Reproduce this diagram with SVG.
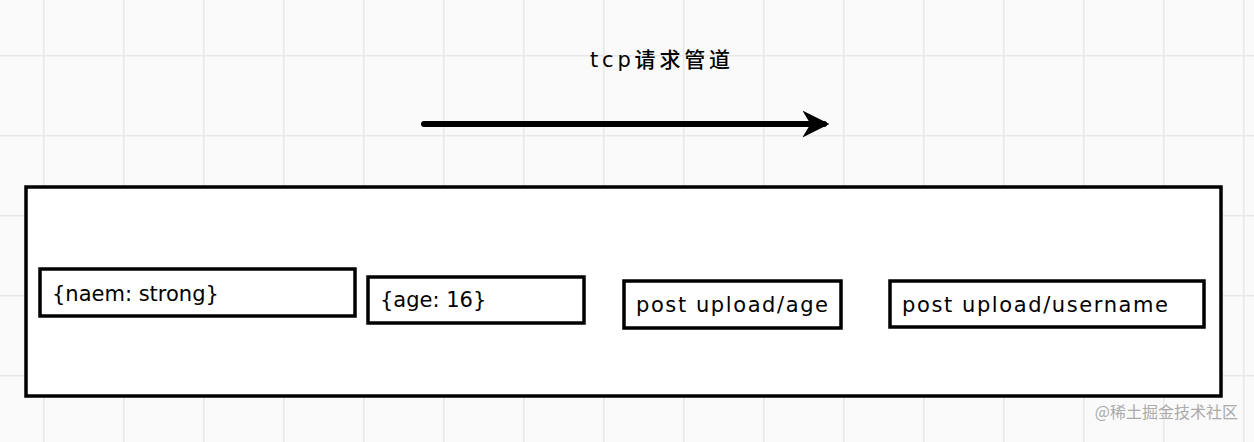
<svg xmlns="http://www.w3.org/2000/svg" width="1254" height="442" viewBox="0 0 1254 442">
<defs>
<pattern id="g" x="43" y="55" width="80" height="80" patternUnits="userSpaceOnUse"><path d="M0 0V80M0 0H80" stroke="#e8e8e8" stroke-width="3" fill="none"/></pattern>
<marker id="ah" viewBox="0 0 10 10" refX="8" refY="5" markerWidth="4.5" markerHeight="4.5" orient="auto"><path d="M0 0L10 5L0 10L3 5Z" fill="#000"/></marker>
</defs>
<style>
.b{fill:#fff;stroke:#000;stroke-width:3.5}
.t{font-family:"DejaVu Sans","Noto Sans CJK SC",sans-serif;font-size:21px;fill:#000}
</style>
<rect width="1254" height="442" fill="#fafafa"/>
<rect width="1254" height="442" fill="url(#g)"/>
<text class="t" x="660" y="67" text-anchor="middle" font-size="23" font-weight="500" textLength="140">tcp请求管道</text>
<g id="connectors"><path d="M424 124H824" stroke="#000" stroke-width="6" stroke-linecap="round" marker-end="url(#ah)"/></g>
<g id="pipe"><rect class="b" x="26" y="187" width="1195" height="209"/></g>
<g id="n1"><rect class="b" x="40" y="269" width="315" height="47"/><text class="t" x="52" y="301">{naem: strong}</text></g>
<g id="n2"><rect class="b" x="368" y="277" width="216" height="46"/><text class="t" x="380" y="307">{age: 16}</text></g>
<g id="n3"><rect class="b" x="624" y="281" width="217" height="47"/><text class="t" x="636" y="312" textLength="192">post upload/age</text></g>
<g id="n4"><rect class="b" x="890" y="281" width="314" height="46"/><text class="t" x="902" y="312" textLength="266">post upload/username</text></g>
<text x="1238" y="418" text-anchor="end" font-family="Noto Sans CJK SC,sans-serif" font-size="16" fill="#aaa">@稀土掘金技术社区</text>
</svg>
